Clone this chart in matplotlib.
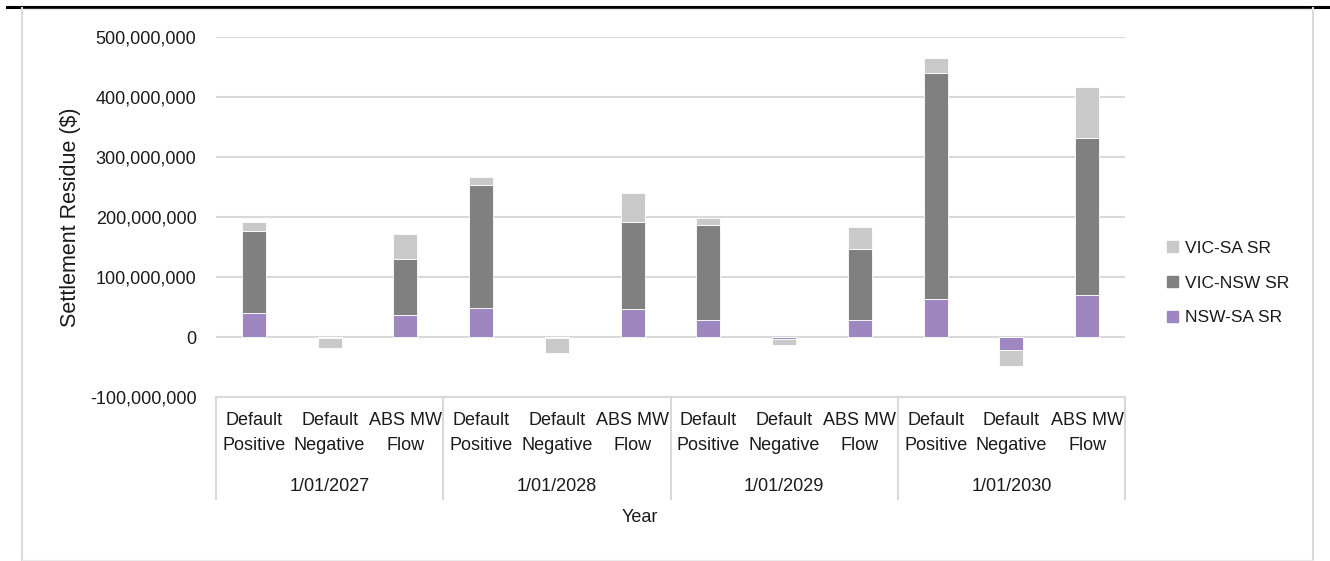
import matplotlib
matplotlib.use("Agg")
import matplotlib.pyplot as plt
from matplotlib.lines import Line2D
from matplotlib.patches import Patch
import matplotlib.ticker as mticker
import numpy as np

# ── data ──────────────────────────────────────────────────────────────────────
years = ["1/01/2027", "1/01/2028", "1/01/2029", "1/01/2030"]
cases = ["Default\nPositive", "Default\nNegative", "ABS MW\nFlow"]

# values in $ per (year, case), order: 2027 DP, DN, ABS, 2028 DP, ...
nsw_sa = [40e6, -2e6, 37e6, 48e6, -1e6, 46e6, 29e6, -4e6, 28e6, 63e6, -21e6, 70e6]
vic_nsw = [137e6, 0, 93e6, 205e6, 0, 146e6, 158e6, 0, 119e6, 377e6, 0, 261e6]
vic_sa = [14e6, -17e6, 41e6, 13e6, -25e6, 48e6, 12e6, -10e6, 37e6, 25e6, -28e6, 86e6]

series = [("NSW-SA SR", nsw_sa, "#9E87C0"),
          ("VIC-NSW SR", vic_nsw, "#808080"),
          ("VIC-SA SR", vic_sa, "#C9C9C9")]

# ── styling ───────────────────────────────────────────────────────────────────
plt.rcParams["font.family"] = ["Liberation Sans", "DejaVu Sans"]
TXT = "#1a1a1a"
GRID = "#D9D9D9"
FS = 13

fig = plt.figure(figsize=(13.3, 5.61), dpi=100)
ax = fig.add_axes([216 / 1330, 1 - 397 / 561, (1125 - 216) / 1330, 360 / 561])

x = np.arange(len(nsw_sa))
pos_bottom = np.zeros(len(x))
neg_bottom = np.zeros(len(x))
for name, vals, col in series:
    v = np.array(vals, dtype=float)
    bottom = np.where(v >= 0, pos_bottom, neg_bottom)
    ax.bar(x, v, bottom=bottom, width=0.32, color=col, edgecolor="white",
           linewidth=0.6, zorder=3, label=name)
    pos_bottom += np.where(v >= 0, v, 0)
    neg_bottom += np.where(v < 0, v, 0)

ax.set_xlim(-0.5, len(x) - 0.5)
ax.set_ylim(-100e6, 500e6)
ax.yaxis.set_major_locator(mticker.MultipleLocator(100e6))
ax.yaxis.set_major_formatter(mticker.FuncFormatter(lambda v, p: f"{v:,.0f}"))
ax.grid(True, axis="y", color=GRID, linewidth=1.5, zorder=0)
for s in ax.spines.values():
    s.set_visible(False)
ax.tick_params(axis="y", length=0, pad=14, labelsize=FS, colors=TXT)
ax.set_xticks([])
ax.set_ylabel("Settlement Residue ($)", fontsize=15.5, color=TXT)
ax.yaxis.set_label_coords(-0.148, 0.5)

# category box below the axis
ax.axhline(-100e6, color=GRID, linewidth=1.5, clip_on=False, zorder=1)
trans = ax.get_xaxis_transform()
for i in range(len(x)):
    ax.text(x[i], -0.1, cases[i % 3], transform=trans, ha="center", va="center",
            fontsize=FS, color=TXT, linespacing=1.6)
for g, yr in enumerate(years):
    ax.text(g * 3 + 1, -0.248, yr, transform=trans, ha="center", va="center",
            fontsize=FS, color=TXT)
for b in range(len(years) + 1):
    ax.add_line(Line2D([b * 3 - 0.5] * 2, [0, -0.283], transform=trans,
                       color=GRID, linewidth=1.5, clip_on=False))
fig.text(640 / 1330, 1 - 517 / 561, "Year", ha="center", va="center",
         fontsize=FS, color=TXT)

# legend (reversed order like the source)
handles = [Patch(color=c, label=n) for n, _, c in series[::-1]]
fig.legend(handles=handles, loc="center left", bbox_to_anchor=(1151 / 1330, 1 - 283 / 561),
           frameon=False, fontsize=12.5, handlelength=0.65, handleheight=0.65,
           handletextpad=0.4, labelspacing=1.15, labelcolor=TXT)

# outer frame
fig.add_artist(Line2D([7 / 1330, 1328 / 1330], [1 - 6.5 / 561] * 2, color="black", linewidth=2.2))
fig.add_artist(Line2D([22 / 1330] * 2, [1 - 8 / 561, 0], color=GRID, linewidth=1.5))
fig.add_artist(Line2D([1313 / 1330] * 2, [1 - 8 / 561, 0], color=GRID, linewidth=1.5))
fig.add_artist(Line2D([22 / 1330, 1313 / 1330], [1 - 8.5 / 561] * 2, color="#EBEBEB", linewidth=1))
fig.add_artist(Line2D([22 / 1330, 1313 / 1330], [1 - 560 / 561] * 2, color="#EBEBEB", linewidth=1))

fig.savefig("out.png", dpi=100, facecolor="white")
